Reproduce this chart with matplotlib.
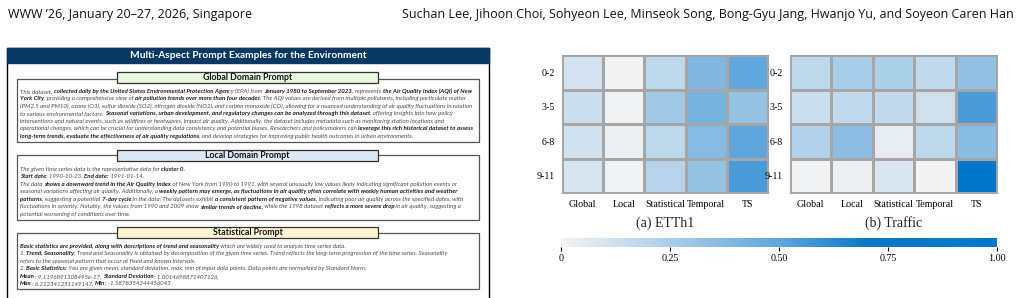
import numpy as np
import matplotlib
matplotlib.use("Agg")
import matplotlib.pyplot as plt
from matplotlib.colors import LinearSegmentedColormap
from matplotlib.patches import Rectangle
from matplotlib.font_manager import FontProperties

# datos de los mapas de calor
filas = ["0-2", "3-5", "6-8", "9-11"]
columnas = ["Global", "Local", "Statistical", "Temporal", "TS"]
etth1 = [[0.11, 0.00, 0.18, 0.39, 0.49],
         [0.14, 0.01, 0.28, 0.42, 0.32],
         [0.12, 0.03, 0.18, 0.37, 0.50],
         [0.10, 0.01, 0.21, 0.32, 0.55]]
traffic = [[0.18, 0.25, 0.24, 0.17, 0.33],
           [0.14, 0.17, 0.17, 0.13, 0.55],
           [0.22, 0.35, 0.05, 0.18, 0.36],
           [0.01, 0.02, 0.09, 0.00, 1.00]]
titulos = ["(a) ETTh1", "(b) Traffic"]
ticks_cb = [0, 0.25, 0.5, 0.75, 1.0]
etiquetas_cb = ["0", "0.25", "0.50", "0.75", "1.00"]

# textos del panel izquierdo: (texto, negrita)
cabecera_izq = "WWW \u201926, January 20\u201327, 2026, Singapore"
cabecera_der = "Suchan Lee, Jihoon Choi, Sohyeon Lee, Minseok Song, Bong-Gyu Jang, Hwanjo Yu, and Soyeon Caren Han"
titulo_panel = "Multi-Aspect Prompt Examples for the Environment"

global_txt = [
    [("This dataset, ", 0), ("collected daily by the United States Environmental Protection Agen", 1), ("cy (EPA) from ", 0),
     ("January 1980 to September 2023", 1), (", represents ", 0), ("the Air Quality Index (AQI) of New", 1)],
    [("York City", 1), (", providing a comprehensive view of ", 0), ("air pollution trends over more than four decades", 1),
     (". The AQI values are derived from multiple pollutants, including particulate matter", 0)],
    [("(PM2.5 and PM10), ozone (O3), sulfur dioxide (SO2), nitrogen dioxide (NO2), and carbon monoxide (CO), allowing for a nuanced understanding of air quality fluctuations in relation", 0)],
    [("to various environmental factors. ", 0), ("Seasonal variations, urban development, and regulatory changes can be analyzed through this dataset", 1),
     (", offering insights into how policy", 0)],
    [("interventions and natural events, such as wildfires or heatwaves, impact air quality. Additionally, the dataset includes metadata such as monitoring station locations and", 0)],
    [("operational changes, which can be crucial for understanding data consistency and potential biases. Researchers and policymakers can ", 0),
     ("leverage this rich historical dataset to assess", 1)],
    [("long-term trends, evaluate the effectiveness of air quality regulations", 1),
     (", and develop strategies for improving public health outcomes in urban environments.", 0)],
]
local_txt = [
    [("The given time series data is the representative data for ", 0), ("cluster 0", 1), (".", 0)],
    [("Start date", 1), (": 1990-10-23. ", 0), ("End date:", 1), (" 1991-01-14.", 0)],
    [("The data ", 0), ("shows a downward trend in the Air Quality Index", 1),
     (" of New York from 1990 to 1991, with several unusually low values likely indicating significant pollution events or", 0)],
    [("seasonal variations affecting air quality. Additionally, a ", 0),
     ("weekly pattern may emerge, as fluctuations in air quality often correlate with weekly human activities and weather", 1)],
    [("patterns", 1), (", suggesting a potential ", 0), ("7-day cycle", 1), (" in the data. The datasets exhibit ", 0),
     ("a consistent pattern of negative values", 1), (", indicating poor air quality across the specified dates, with", 0)],
    [("fluctuations in severity. Notably, the values from 1990 and 2009 show ", 0), ("similar trends of decline,", 1),
     (" while the 1998 dataset ", 0), ("reflects a more severe drop", 1), (" in air quality, suggesting a", 0)],
    [("potential worsening of conditions over time.", 0)],
]
stat_txt = [
    [("Basic statistics are provided, along with descriptions of trend and seasonality", 1),
     (" which are widely used to analyze time series data.", 0)],
    [("1. ", 0), ("Trend, Seasonality", 1),
     (": Trend and Seasonality is obtained by decomposition of the given time series. Trend reflects the long-term progression of the time series. Seasonality", 0)],
    [("refers to the seasonal pattern that occur at fixed and known intervals.", 0)],
    [("2. ", 0), ("Basic Statistics:", 1),
     (" You are given mean, standard deviation, max, min of input data points. Data points are normalized by Standard Norm.", 0)],
    [("Mean", 1), (": 9.1196891308495e-17, ", 0), ("Standard Deviation", 1), (": 1.0014698871407126,", 0)],
    [("Max", 1), (": 6.212341251149147, ", 0), ("Min", 1), (": -1.5878354344456043", 0)],
]

W, H = 1022, 298
fig = plt.figure(figsize=(W / 100, H / 100), dpi=100)
rend = fig.canvas.get_renderer()


def fx(x):
    return x / W


def fy(y):
    return 1 - y / H


def caja(x0, y0, x1, y1, **kw):
    r = Rectangle((fx(x0), fy(y1)), fx(x1) - fx(x0), fy(y0) - fy(y1), transform=fig.transFigure, **kw)
    fig.add_artist(r)


def ancho(s, fs, b):
    # ancho en pixeles, contando los espacios del final
    fp = FontProperties(family="Lato", style="italic", weight="bold" if b else "normal", size=fs)
    w1 = rend.get_text_width_height_descent(s + "|", fp, ismath=False)[0]
    w2 = rend.get_text_width_height_descent("|", fp, ismath=False)[0]
    return w1 - w2


def ancho_linea(partes, fs):
    return sum(ancho(s, fs, b) for s, b in partes)


def linea_mixta(x, y, partes, fs):
    for s, b in partes:
        fig.text(fx(x), fy(y), s, fontsize=fs, style="italic", fontweight="bold" if b else "normal",
                 family="Lato", color="#1a1a1a" if b else "#4a4a4a", va="baseline", ha="left")
        x += ancho(s, fs, b)


# tamano de letra para que la linea mas larga ocupe el ancho de la caja
fs_cuerpo = 4.0 * 454 / max(ancho_linea(ln, 4.0) for ln in global_txt)


def bloque(y_titulo, titulo, color, y_top, lineas):
    y_fin = y_titulo + 11 + 8.2 + 7.5 * (len(lineas) - 1) + 5.5
    caja(17, y_top, 479, y_fin, facecolor="white", edgecolor="#555555", lw=0.9)
    caja(117, y_titulo, 378, y_titulo + 11, facecolor=color, edgecolor="#333333", lw=0.9)
    fig.text(fx(247.5), fy(y_titulo + 5.6), titulo, fontsize=6.3, fontweight="bold", family="Lato",
             ha="center", va="center", color="#111111")
    y = y_titulo + 11 + 8.2 + 1.6
    for ln in lineas:
        linea_mixta(20, y, ln, fs_cuerpo)
        y += 7.5


# cabecera de pagina
fig.text(fx(8), fy(18), cabecera_izq, fontsize=9.0, family="Open Sans", color="#111111")
fig.text(fx(1014), fy(18), cabecera_der, fontsize=9.0, family="Open Sans", color="#111111", ha="right")

# panel izquierdo
caja(7, 48, 489, 305, facecolor="white", edgecolor="black", lw=1.0)
caja(7, 48, 489, 63, facecolor="#073963", edgecolor="#073963", lw=1.0)
fig.text(fx(248), fy(56), titulo_panel, fontsize=7.3, fontweight="bold", family="Lato",
         ha="center", va="center", color="white")
bloque(72, "Global Domain Prompt", "#e6f9de", 79, global_txt)
bloque(150, "Local Domain Prompt", "#dce8f5", 155, local_txt)
bloque(227, "Statistical Prompt", "#fff4d4", 233, stat_txt)

# mapas de calor
cmap = LinearSegmentedColormap.from_list(
    "azul", [(0, "#f3f3f3"), (0.25, "#aacde8"), (0.5, "#5fa6db"), (0.7, "#0a78c9"), (1, "#0076c8")], N=256)
posiciones = [[562, 206], [790, 207]]
for datos, titulo, (x0, ancho_ax) in zip([etth1, traffic], titulos, posiciones):
    ax = fig.add_axes([fx(x0), fy(193), fx(ancho_ax), (193 - 55) / H])
    m = ax.pcolormesh(np.array(datos), cmap=cmap, vmin=0, vmax=1, edgecolor="#a6a6a6", linewidth=0.8)
    ax.set_xlim(0, 5)
    ax.set_ylim(4, 0)
    ax.set_xticks(np.arange(5) + 0.5)
    ax.set_xticklabels(columnas, family="Liberation Serif", fontsize=7.2)
    ax.set_yticks(np.arange(4) + 0.5)
    ax.set_yticklabels(filas, family="Liberation Serif", fontsize=7.2)
    ax.tick_params(length=0, pad=5)
    for sp in ax.spines.values():
        sp.set_color("#a6a6a6")
        sp.set_linewidth(0.8)
    fig.text(fx(x0 + ancho_ax / 2), fy(223), titulo, family="Liberation Serif", fontsize=10,
             ha="center", va="center", color="#222222")

cax = fig.add_axes([fx(561), fy(247), fx(436), 9.5 / H])
cb = fig.colorbar(m, cax=cax, orientation="horizontal")
cb.set_ticks(ticks_cb)
cb.set_ticklabels(etiquetas_cb)
cb.outline.set_visible(False)
cax.tick_params(length=3, width=0.8, labelsize=7.2, pad=2)
for lb in cax.get_xticklabels():
    lb.set_family("Liberation Serif")

fig.savefig("out.png", dpi=100)
